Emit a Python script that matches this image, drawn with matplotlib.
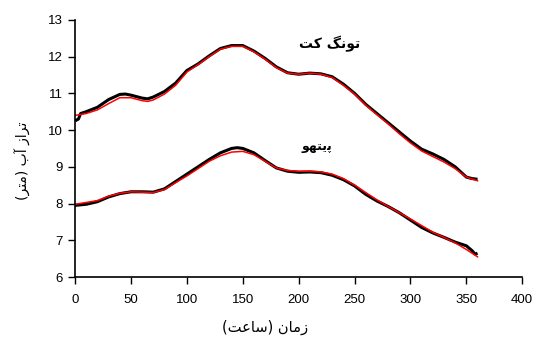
import matplotlib
matplotlib.use("Agg")
import matplotlib.pyplot as plt

# Upper station (observed = black, simulated = red)
t_up_obs = [0, 3, 5, 10, 20, 30, 40, 45, 50, 60, 65, 70, 80, 90, 100, 110, 120, 130, 140, 150,
            160, 170, 180, 190, 200, 210, 220, 230, 240, 250, 260, 270, 280, 290, 300, 310,
            320, 330, 340, 350, 355, 360]
v_up_obs = [10.25, 10.30, 10.45, 10.50, 10.62, 10.83, 10.97, 10.98, 10.95, 10.87, 10.85, 10.90,
            11.05, 11.28, 11.62, 11.80, 12.02, 12.22, 12.30, 12.30, 12.15, 11.95, 11.72, 11.56,
            11.52, 11.55, 11.53, 11.45, 11.25, 11.00, 10.70, 10.45, 10.20, 9.95, 9.70, 9.48,
            9.35, 9.20, 9.00, 8.72, 8.68, 8.66]
t_up_sim = [0, 10, 20, 30, 40, 50, 60, 65, 70, 80, 90, 100, 110, 120, 130, 140, 150, 160, 170,
            180, 190, 200, 210, 220, 230, 240, 250, 260, 270, 280, 290, 300, 310, 320, 330,
            340, 350, 360]
v_up_sim = [10.40, 10.45, 10.55, 10.72, 10.88, 10.88, 10.80, 10.78, 10.82, 10.98, 11.22, 11.58,
            11.78, 12.00, 12.20, 12.28, 12.28, 12.13, 11.93, 11.70, 11.55, 11.52, 11.55, 11.52,
            11.43, 11.22, 10.98, 10.68, 10.42, 10.17, 9.90, 9.65, 9.43, 9.28, 9.13, 8.95, 8.72,
            8.62]

# Lower station
t_lo_obs = [0, 10, 20, 30, 40, 50, 60, 70, 80, 90, 100, 110, 120, 130, 140, 145, 150, 160, 170,
            180, 190, 200, 210, 220, 230, 240, 250, 260, 270, 280, 290, 300, 310, 320, 330,
            340, 350, 355, 358, 360]
v_lo_obs = [7.95, 7.98, 8.05, 8.18, 8.27, 8.32, 8.32, 8.31, 8.40, 8.60, 8.80, 9.00, 9.20, 9.38,
            9.50, 9.52, 9.50, 9.38, 9.17, 8.97, 8.88, 8.85, 8.86, 8.84, 8.77, 8.65, 8.48, 8.25,
            8.07, 7.92, 7.75, 7.55, 7.35, 7.20, 7.08, 6.95, 6.85, 6.72, 6.62, 6.65]
t_lo_sim = [0, 10, 20, 30, 40, 50, 60, 70, 80, 90, 100, 110, 120, 130, 140, 150, 160, 170, 180,
            190, 200, 210, 220, 230, 240, 250, 260, 270, 280, 290, 300, 310, 320, 330, 340,
            350, 360]
v_lo_sim = [7.98, 8.03, 8.08, 8.20, 8.28, 8.32, 8.31, 8.30, 8.38, 8.57, 8.75, 8.95, 9.15, 9.30,
            9.40, 9.42, 9.33, 9.15, 8.97, 8.90, 8.88, 8.88, 8.86, 8.80, 8.68, 8.50, 8.30, 8.10,
            7.92, 7.75, 7.58, 7.40, 7.22, 7.08, 6.93, 6.75, 6.55]

x_ticks = [0, 50, 100, 150, 200, 250, 300, 350, 400]
y_ticks = [6, 7, 8, 9, 10, 11, 12, 13]

# Persian labels written in visual (left-to-right) order with presentation forms
label_upper = "\uFE96\uFB90 \uFB93\uFEE7\uFEEE\uFE97"          # تونگ کت
label_lower = "\uFEEE\uFEEC\uFE98\uFBFE\uFB58"                  # پیتهو
xlabel = "(\uFE96\uFECB\uFE8E\uFEB3) \uFEE5\uFE8E\uFEE3\uFEAF"  # زمان (ساعت)
ylabel = "(\uFEAE\uFE98\uFEE3) \uFE8F\uFE81 \uFEAF\uFE8D\uFEAE\uFE97"  # تراز آب (متر)

plt.rcParams['font.family'] = ['Liberation Sans', 'DejaVu Sans']

fig = plt.figure(figsize=(5.44, 3.42), dpi=100)
ax = fig.add_axes([0.138, 0.19, 0.822, 0.752])

ax.plot(t_up_obs, v_up_obs, color='black', lw=2.2, solid_capstyle='butt')
ax.plot(t_up_sim, v_up_sim, color='red', lw=1.1)
ax.plot(t_lo_obs, v_lo_obs, color='black', lw=2.2, solid_capstyle='butt')
ax.plot(t_lo_sim, v_lo_sim, color='red', lw=1.1)

ax.set_xlim(0, 400)
ax.set_ylim(6, 13)
ax.set_xticks(x_ticks)
ax.set_yticks(y_ticks)
ax.tick_params(direction='out', length=5, width=1, labelsize=9.5, colors='black', pad=4)
ax.tick_params(axis='x', pad=7)
for s in ['top', 'right']:
    ax.spines[s].set_visible(False)
for s in ['left', 'bottom']:
    ax.spines[s].set_linewidth(1.2)

arab = ['DejaVu Sans', 'Liberation Sans']
ax.text(228, 12.35, label_upper, family=arab, fontsize=10, fontweight='bold', ha='center', va='center')
ax.text(216, 9.54, label_lower, family=arab, fontsize=9, fontweight='bold', ha='center', va='center')
fig.text(0.487, 0.044, xlabel, family=arab, fontsize=10.5, ha='center', va='center')
fig.text(0.042, 0.53, ylabel, family=arab, fontsize=10, ha='center', va='center', rotation=90)

fig.savefig('out.png', dpi=100)
